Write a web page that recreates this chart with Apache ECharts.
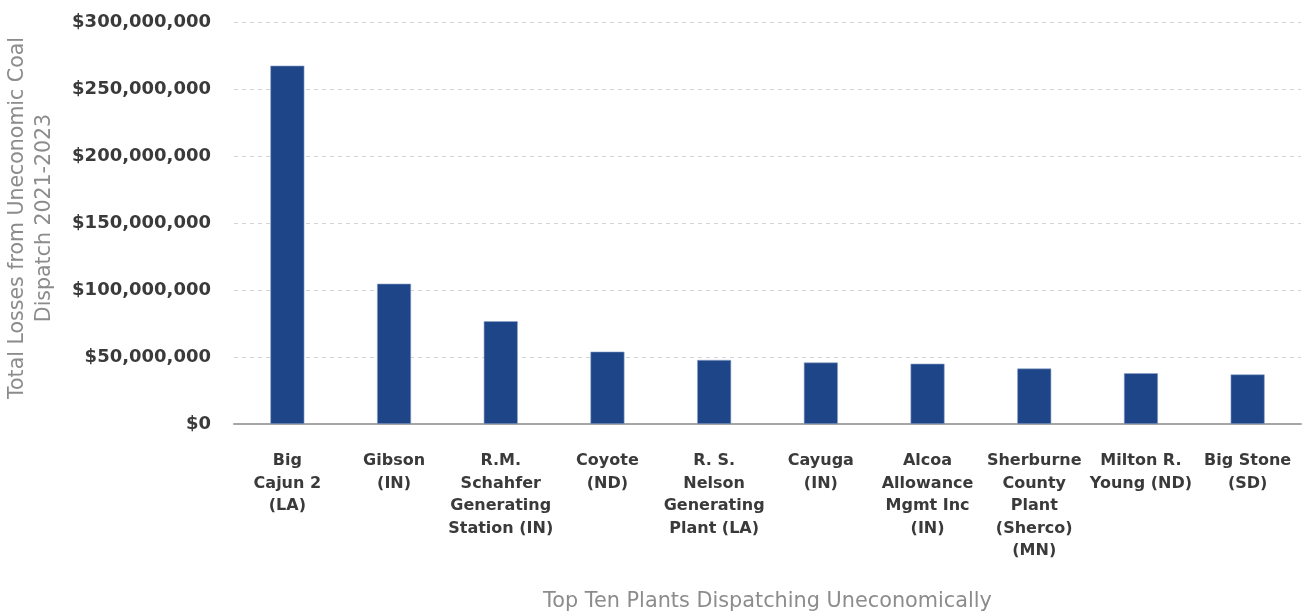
<!DOCTYPE html>
<html>
<head>
<meta charset="utf-8">
<script src="https://cdn.jsdelivr.net/npm/echarts@6/dist/echarts.min.js"></script>
<style>
html,body{margin:0;padding:0;background:#fff;}
#c{width:1302px;height:611px;}
</style>
</head>
<body>
<div id="c"></div>
<script>
const categories = [
  "Big\nCajun 2\n(LA)",
  "Gibson\n(IN)",
  "R.M.\nSchahfer\nGenerating\nStation (IN)",
  "Coyote\n(ND)",
  "R. S.\nNelson\nGenerating\nPlant (LA)",
  "Cayuga\n(IN)",
  "Alcoa\nAllowance\nMgmt Inc\n(IN)",
  "Sherburne\nCounty\nPlant\n(Sherco)\n(MN)",
  "Milton R.\nYoung (ND)",
  "Big Stone\n(SD)"
];
const losses = [267400000, 104700000, 76700000, 54000000, 47800000, 45900000, 45000000, 41400000, 37900000, 37000000];
const yTicks = [0, 50000000, 100000000, 150000000, 200000000, 250000000, 300000000];
const yAxisTitle = "Total Losses from Uneconomic Coal\nDispatch 2021-2023";
const xAxisTitle = "Top Ten Plants Dispatching Uneconomically";

const chart = echarts.init(document.getElementById('c'));
const fmt = v => '$' + v.toLocaleString('en-US');
chart.setOption({
  animation: false,
  backgroundColor: '#ffffff',
  grid: { left: 234, right: 1, top: 22, bottom: 187, containLabel: false, outerBoundsMode: 'none' },
  xAxis: {
    type: 'category',
    data: categories,
    name: xAxisTitle,
    nameLocation: 'middle',
    nameGap: 167,
    nameTextStyle: { color: '#8c8c8c', fontSize: 20.8, fontFamily: 'DejaVu Sans' },
    axisLine: { show: true, lineStyle: { color: '#a6a6a6', width: 2 } },
    axisTick: { show: false },
    axisLabel: {
      interval: 0,
      color: '#3a3a3a',
      fontSize: 16,
      fontWeight: 'bold',
      fontFamily: 'DejaVu Sans',
      lineHeight: 22.5,
      margin: 26,
      align: 'center'
    }
  },
  yAxis: {
    type: 'value',
    min: 0,
    max: 300000000,
    interval: 50000000,
    name: yAxisTitle,
    nameLocation: 'middle',
    nameGap: 176,
    nameRotate: 90,
    nameTextStyle: { color: '#8c8c8c', fontSize: 20.5, fontFamily: 'DejaVu Sans', lineHeight: 27, align: 'center', padding: [0, 0, 0, 10] },
    axisLine: { show: false },
    axisTick: { show: false },
    axisLabel: {
      color: '#3a3a3a',
      fontSize: 18,
      fontWeight: 'bold',
      fontFamily: 'DejaVu Sans',
      margin: 23,
      formatter: v => yTicks.includes(v) ? fmt(v) : ''
    },
    splitLine: { show: true, lineStyle: { color: '#d4d4d4', type: [4, 4], width: 1 } }
  },
  series: [{
    type: 'bar',
    data: losses,
    barWidth: 34,
    itemStyle: { color: '#1d4587', borderColor: '#8fa5c8', borderWidth: 0.6 }
  }]
});
</script>
</body>
</html>
